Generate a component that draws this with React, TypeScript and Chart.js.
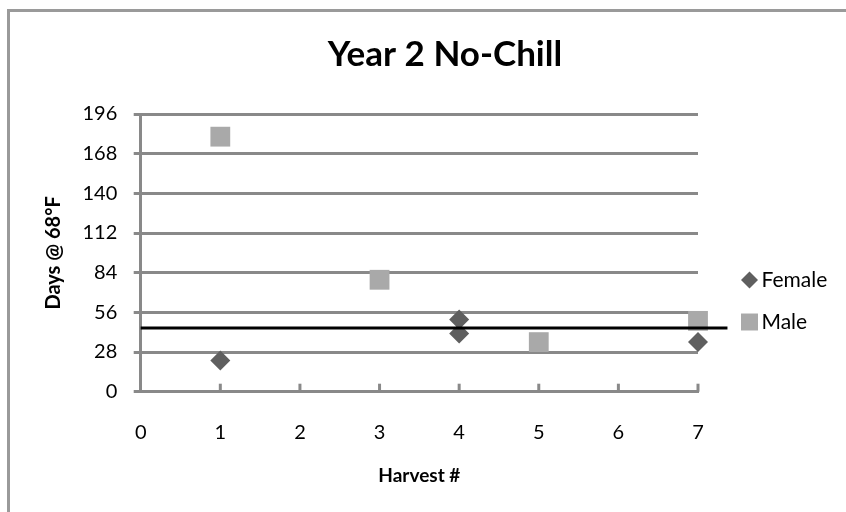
import React, { useEffect, useRef } from 'react';
import { Chart, registerables } from 'chart.js';
import { drawPoint } from 'chart.js/helpers';

Chart.register(...registerables);

const TITLE = 'Year 2 No-Chill';
const X_TITLE = 'Harvest #';
const Y_TITLE = 'Days @ 68°F';

const FEMALE_LABEL = 'Female';
const FEMALE_X = [1, 4, 4, 7];
const FEMALE_Y = [22, 51, 41, 35];

const MALE_LABEL = 'Male';
const MALE_X = [1, 3, 5, 7];
const MALE_Y = [180, 79, 35, 50];

const REF_X = [0, 7.37];
const REF_Y = [45, 45];

const X_MIN = 0;
const X_MAX = 7;
const X_STEP = 1;
const Y_MIN = 0;
const Y_MAX = 196;
const Y_STEP = 28;

const FONT = 'Lato, "Noto Sans", sans-serif';
const GRID = '#898989';

const toPoints = (xs: number[], ys: number[]) => xs.map((x, i) => ({ x, y: ys[i] }));

const insideXTicks = {
  id: 'insideXTicks',
  afterDatasetsDraw(chart: any) {
    const xs = chart.scales.x;
    const ctx = chart.ctx;
    const bottom = chart.chartArea.bottom;
    ctx.save();
    ctx.strokeStyle = GRID;
    ctx.lineWidth = 3;
    xs.ticks.forEach((t: any) => {
      if (t.value === X_MIN) return;
      const px = xs.getPixelForValue(t.value);
      ctx.beginPath();
      ctx.moveTo(px, bottom);
      ctx.lineTo(px, bottom - 8);
      ctx.stroke();
    });
    ctx.restore();
  },
};

const sideLegend = {
  id: 'sideLegend',
  afterDraw(chart: any) {
    const ctx = chart.ctx;
    const area = chart.chartArea;
    const items = chart.data.datasets.filter((d: any) => !d.hideInLegend);
    ctx.save();
    items.forEach((d: any, i: number) => {
      const cx = area.right + 51.5;
      const cy = area.top + 166 + i * 42;
      ctx.fillStyle = d.backgroundColor;
      drawPoint(ctx, {
        pointStyle: d.pointStyle,
        radius: d.pointStyle === 'rect' ? 12 : 8.5,
        borderWidth: 0,
        rotation: 0,
      } as any, cx, cy);
      ctx.fillStyle = '#000';
      ctx.font = `21px ${FONT}`;
      ctx.textBaseline = 'middle';
      ctx.textAlign = 'left';
      ctx.fillText(d.label, cx + 12, cy);
    });
    ctx.restore();
  },
};

export default function App() {
  const ref = useRef<HTMLCanvasElement>(null);

  useEffect(() => {
    if (!ref.current) return;
    const chart = new Chart(ref.current, {
      type: 'scatter',
      data: {
        datasets: [
          {
            label: 'ref',
            hideInLegend: true,
            data: toPoints(REF_X, REF_Y),
            showLine: true,
            borderColor: '#000',
            borderWidth: 3,
            pointRadius: 0,
            clip: false,
          } as any,
          {
            label: FEMALE_LABEL,
            data: toPoints(FEMALE_X, FEMALE_Y),
            pointStyle: 'rectRot',
            pointRadius: 10,
            backgroundColor: '#5f5f5f',
            borderWidth: 0,
            clip: false,
          } as any,
          {
            label: MALE_LABEL,
            data: toPoints(MALE_X, MALE_Y),
            pointStyle: 'rect',
            pointRadius: 14,
            backgroundColor: '#a9a9a9',
            borderWidth: 0,
            clip: false,
          } as any,
        ],
      },
      options: {
        animation: false,
        responsive: false,
        layout: { padding: { left: 44, right: 0, top: 0, bottom: 0 } },
        plugins: {
          legend: { display: false },
          tooltip: { enabled: false },
          title: {
            display: true,
            text: TITLE,
            color: '#000',
            font: { family: FONT, size: 35, weight: 'bold', lineHeight: 1.2 },
            padding: { top: 34, bottom: 38 },
          },
        },
        scales: {
          x: {
            type: 'linear',
            min: X_MIN,
            max: X_MAX,
            ticks: { stepSize: X_STEP, color: '#000', font: { family: FONT, size: 20 }, padding: 28.5 },
            grid: { drawOnChartArea: false, drawTicks: false },
            border: { color: GRID, width: 3 },
            title: {
              display: true,
              text: X_TITLE,
              color: '#000',
              font: { family: FONT, size: 19, weight: 'bold', lineHeight: 1.2 },
              padding: { top: 0, bottom: 25 },
            },
            afterFit: (s: any) => { s.height = 120.3; },
          },
          y: {
            type: 'linear',
            position: 'left',
            min: Y_MIN,
            max: Y_MAX,
            ticks: { stepSize: Y_STEP, color: '#000', font: { family: FONT, size: 20 }, padding: 16.4 },
            grid: { color: GRID, lineWidth: 3, tickLength: 7, tickColor: GRID, tickWidth: 3 },
            border: { color: GRID, width: 3 },
            title: {
              display: true,
              text: Y_TITLE,
              color: '#000',
              font: { family: FONT, size: 20, weight: 'bold', lineHeight: 1.0 },
              padding: { top: 0, bottom: 0 },
            },
            afterFit: (s: any) => { s.width = 96.7; },
          },
          yRight: {
            type: 'linear',
            position: 'right',
            display: true,
            min: Y_MIN,
            max: Y_MAX,
            ticks: { display: false },
            grid: { display: false, drawOnChartArea: false, drawTicks: false },
            border: { display: false },
            afterFit: (s: any) => { s.width = 148; },
          },
        },
      } as any,
      plugins: [insideXTicks, sideLegend],
    });
    return () => chart.destroy();
  }, []);

  return (
    <div style={{ position: 'fixed', left: 0, top: 0, width: 846, height: 512, background: '#fff', overflow: 'hidden' }}>
      <canvas ref={ref} width={846} height={512} style={{ position: 'absolute', left: 0, top: 0 }} />
      <div
        style={{
          position: 'absolute',
          left: 7,
          top: 9,
          width: 900,
          height: 600,
          borderTop: '3px solid #9a9a9a',
          borderLeft: '3px solid #9a9a9a',
          pointerEvents: 'none',
        }}
      />
    </div>
  );
}
